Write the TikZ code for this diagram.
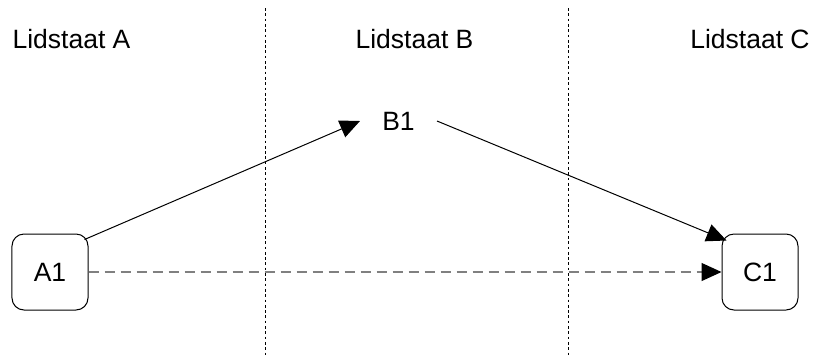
\documentclass[tikz,border=0pt]{standalone}
\usepackage{fontspec}
\setmainfont{Liberation Sans}
\usetikzlibrary{arrows.meta}

\begin{document}
\begin{tikzpicture}[x=1bp,y=-1bp,font=\fontsize{26.5bp}{32bp}\selectfont,
    state/.style={draw,rounded corners=12bp,minimum size=76bp,inner sep=0pt,line width=1bp},
    flow/.style={-{Triangle[length=20bp,width=18bp,color=black,fill=black]},line width=1bp},
    border/.style={line width=0.9bp,dash pattern=on 2.7bp off 2.6bp}]
    \useasboundingbox (0,0) rectangle (825,356);
    \def\top {8}
    \def\bottom {356}
    \foreach \x in {265.5,568.5}
        \draw[border] (\x,\top) -- (\x,\bottom);
    \foreach \x/\name in {71.5/A,414.5/B,750/C}
        \node[anchor=base] (land\name) at (\x,48) {Lidstaat \name};
    \node[state] (A1) at (50,272) {A1};
    \node[state,draw=none] (B1) at (398.5,121) {B1};
    \node[state] (C1) at (760,272) {C1};
    \draw[flow] ([shift={(-4,6)}]A1.north east) -- (B1.west);
    \draw[flow] (B1.east) -- ([shift={(5,7)}]C1.north west);
    \draw[flow,gray,line width=1.3bp,dash pattern=on 10bp off 6bp] (A1.east) -- (C1.west);
\end{tikzpicture}
\end{document}
